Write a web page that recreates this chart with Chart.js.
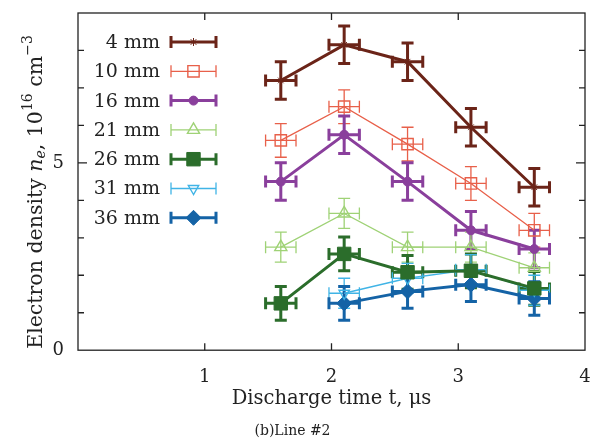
<!DOCTYPE html>
<html>
<head>
<meta charset="utf-8">
<script src="https://cdn.jsdelivr.net/npm/chart.js@4.4.1/dist/chart.umd.min.js"></script>
<style>
  html, body { margin: 0; padding: 0; background: #fff; }
  #wrap { width: 599px; height: 442px; }
</style>
</head>
<body>
<div id="wrap"><canvas id="c" width="599" height="442"></canvas></div>
<script>
// discharge times (us)
const times = [1.6, 2.1, 2.6, 3.1, 3.6];
const timeErr = 0.12;

const labels = ['4 mm', '10 mm', '16 mm', '21 mm', '26 mm', '31 mm', '36 mm'];

// electron density, 10^16 cm^-3 (null = no point)
const ne4  = [7.2, 8.15, 7.7, 5.95, 4.35];
const ne10 = [5.6, 6.5, 5.5, 4.45, 3.2];
const ne16 = [4.5, 5.75, 4.5, 3.2, 2.7];
const ne21 = [2.75, 3.65, 2.75, 2.75, 2.2];
const ne26 = [1.25, 2.57, 2.08, 2.12, 1.65];
const ne31 = [null, 1.52, 1.92, 2.15, 1.6];
const ne36 = [null, 1.25, 1.57, 1.75, 1.38];

// vertical error (half-width) per series
const neErr = [0.5, 0.45, 0.5, 0.4, 0.45, 0.4, 0.45];

const colors = ['#6b2418', '#e8604a', '#8a3f9c', '#9fd276', '#2b6d2b', '#40b4e6', '#1463a6'];
const widths = [3, 1.3, 3, 1.3, 3, 1.3, 3];
const styles = ['star', 'rect', 'circle', 'triangle', 'rect', 'triangle', 'rectRot'];
const radii = [4, 8, 4.5, 7, 9.5, 6, 7.5];
const rotations = [0, 0, 0, 0, 0, 180, 0];
const filled = [true, false, true, false, true, false, true];

const serif = '"DejaVu Serif", "Liberation Serif", serif';

const allSeries = [ne4, ne10, ne16, ne21, ne26, ne31, ne36];

const datasets = allSeries.map((vals, i) => ({
  label: labels[i],
  data: times.map((t, k) => vals[k] == null ? null : { x: t, y: vals[k] }).filter(p => p),
  borderColor: colors[i],
  borderWidth: widths[i],
  pointStyle: styles[i],
  pointRadius: radii[i],
  pointRotation: rotations[i],
  pointBorderColor: colors[i],
  pointBorderWidth: filled[i] ? 1 : 1.4,
  pointBackgroundColor: filled[i] ? colors[i] : 'rgba(0,0,0,0)',
  yErr: neErr[i],
  tension: 0,
  fill: false
}));

// error bars drawn with the chart's own scales
const errorBars = {
  id: 'errorBars',
  beforeDatasetsDraw(chart) {
    const { ctx, scales: { x, y } } = chart;
    chart.data.datasets.forEach((ds, i) => {
      ctx.save();
      ctx.strokeStyle = ds.borderColor;
      ctx.lineWidth = ds.borderWidth;
      const cap = 6;
      ds.data.forEach(p => {
        const px = x.getPixelForValue(p.x), py = y.getPixelForValue(p.y);
        const y1 = y.getPixelForValue(p.y - ds.yErr), y2 = y.getPixelForValue(p.y + ds.yErr);
        const x1 = x.getPixelForValue(p.x - timeErr), x2 = x.getPixelForValue(p.x + timeErr);
        ctx.beginPath();
        ctx.moveTo(px, y1); ctx.lineTo(px, y2);
        ctx.moveTo(px - cap, y1); ctx.lineTo(px + cap, y1);
        ctx.moveTo(px - cap, y2); ctx.lineTo(px + cap, y2);
        ctx.moveTo(x1, py); ctx.lineTo(x2, py);
        ctx.moveTo(x1, py - cap); ctx.lineTo(x1, py + cap);
        ctx.moveTo(x2, py - cap); ctx.lineTo(x2, py + cap);
        ctx.stroke();
      });
      ctx.restore();
    });
  }
};

// frame, inward ticks, legend and y title
const decorations = {
  id: 'decorations',
  afterDraw(chart) {
    const { ctx, chartArea: a, scales: { x, y } } = chart;
    ctx.save();
    ctx.strokeStyle = '#222';
    ctx.lineWidth = 1.3;
    ctx.strokeRect(a.left, a.top, a.right - a.left, a.bottom - a.top);
    ctx.beginPath();
    for (let v = 1; v <= 3; v++) {
      const px = x.getPixelForValue(v);
      ctx.moveTo(px, a.bottom); ctx.lineTo(px, a.bottom - 7);
      ctx.moveTo(px, a.top); ctx.lineTo(px, a.top + 7);
    }
    for (let v = 1; v <= 8; v++) {
      const py = y.getPixelForValue(v);
      const len = v === 5 ? 9 : 6;
      ctx.moveTo(a.left, py); ctx.lineTo(a.left + len, py);
      ctx.moveTo(a.right, py); ctx.lineTo(a.right - len, py);
    }
    ctx.stroke();

    // legend
    chart.data.datasets.forEach((ds, i) => {
      const rowY = 42 + i * 29.3;
      ctx.fillStyle = '#222';
      ctx.font = '19px ' + serif;
      ctx.textAlign = 'right';
      ctx.textBaseline = 'middle';
      ctx.fillText(ds.label, 160, rowY + 1);
      const x0 = 171, x1 = 216, cx = (x0 + x1) / 2;
      ctx.strokeStyle = ds.borderColor;
      ctx.lineWidth = ds.borderWidth;
      ctx.beginPath();
      ctx.moveTo(x0, rowY); ctx.lineTo(x1, rowY);
      ctx.moveTo(x0, rowY - 6); ctx.lineTo(x0, rowY + 6);
      ctx.moveTo(x1, rowY - 6); ctx.lineTo(x1, rowY + 6);
      ctx.stroke();
      if (Chart.helpers && Chart.helpers.drawPoint) {
        ctx.fillStyle = ds.pointBackgroundColor;
        ctx.strokeStyle = ds.pointBorderColor;
        ctx.lineWidth = ds.pointBorderWidth;
        Chart.helpers.drawPoint(ctx, {
          pointStyle: ds.pointStyle, radius: ds.pointRadius,
          rotation: ds.pointRotation, borderWidth: ds.pointBorderWidth
        }, cx, rowY);
      }
    });

    // y axis title with sub/superscripts
    const parts = [
      { t: 'Electron density ', f: '20.5px ' + serif, dy: 0 },
      { t: 'n', f: 'italic 20.5px ' + serif, dy: 0 },
      { t: 'e', f: 'italic 14px ' + serif, dy: 4 },
      { t: ', 10', f: '20.5px ' + serif, dy: 0 },
      { t: '16', f: '14px ' + serif, dy: -9 },
      { t: ' cm', f: '20.5px ' + serif, dy: 0 },
      { t: '\u22123', f: '14px ' + serif, dy: -9 }
    ];
    let total = 0;
    parts.forEach(p => { ctx.font = p.f; p.w = ctx.measureText(p.t).width; total += p.w; });
    ctx.translate(37, 192);
    ctx.rotate(-Math.PI / 2);
    ctx.fillStyle = '#222';
    ctx.textAlign = 'left';
    ctx.textBaseline = 'middle';
    let cur = -total / 2;
    parts.forEach(p => { ctx.font = p.f; ctx.fillText(p.t, cur, p.dy); cur += p.w; });
    ctx.restore();
  }
};

new Chart(document.getElementById('c'), {
  type: 'line',
  data: { datasets },
  plugins: [errorBars, decorations],
  options: {
    responsive: false,
    animation: false,
    layout: { padding: { top: 13, right: 14, left: 0, bottom: 0 } },
    plugins: {
      legend: { display: false },
      tooltip: { enabled: false },
      title: {
        display: true,
        position: 'bottom',
        text: '(b)Line #2',
        color: '#222',
        font: { family: serif, size: 14, weight: 'normal' },
        padding: { top: 6, bottom: 2 }
      }
    },
    scales: {
      x: {
        type: 'linear',
        min: 0, max: 4,
        afterFit: s => { s.height = 67; s.paddingLeft = 0; s.paddingRight = 0; },
        border: { display: false },
        grid: { display: false, drawTicks: false },
        ticks: {
          stepSize: 1,
          padding: 16,
          color: '#222',
          font: { family: serif, size: 18 },
          callback: v => v === 0 ? '' : v
        },
        title: {
          display: true,
          text: 'Discharge time t, \u03bcs',
          color: '#222',
          font: { family: serif, size: 19.5 },
          padding: { top: 0, bottom: 7 }
        }
      },
      y: {
        min: 0, max: 9,
        afterFit: s => { s.width = 78; s.paddingTop = 0; s.paddingBottom = 0; },
        border: { display: false },
        grid: { display: false, drawTicks: false },
        ticks: {
          stepSize: 1,
          padding: 14,
          color: '#222',
          font: { family: serif, size: 18 },
          callback: v => (v === 0 || v === 5) ? v : ''
        }
      }
    }
  }
});
</script>
</body>
</html>
